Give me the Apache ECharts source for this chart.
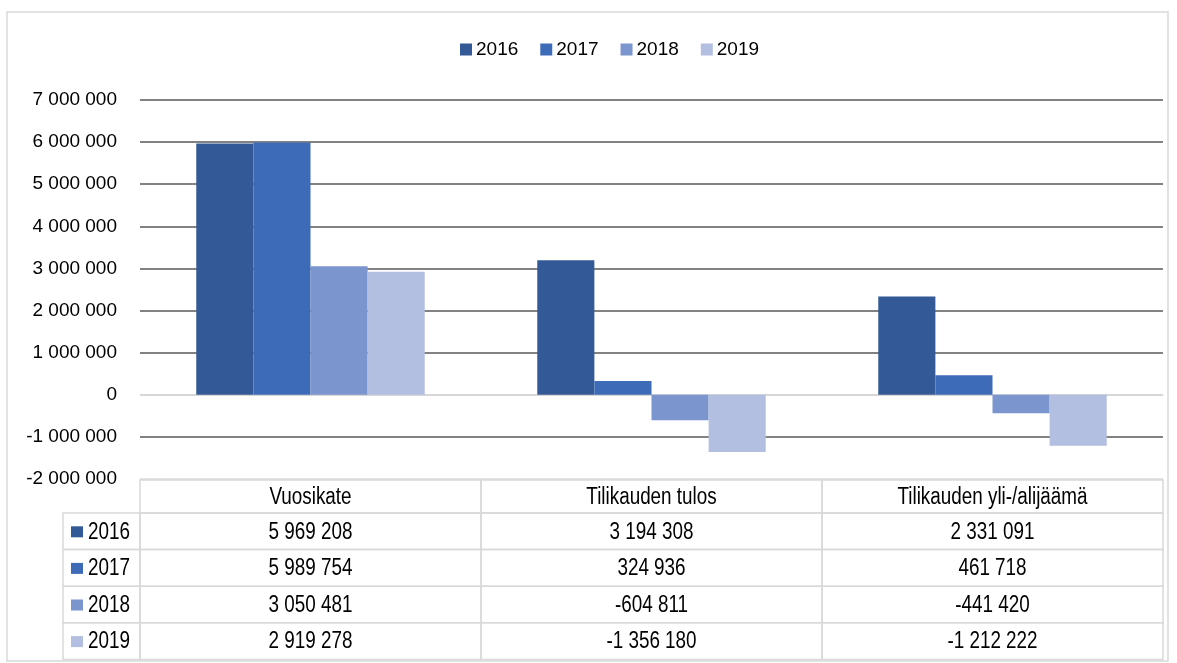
<!DOCTYPE html>
<html>
<head>
<meta charset="utf-8">
<script src="https://cdn.jsdelivr.net/npm/echarts@6/dist/echarts.min.js"></script>
<style>
  html, body { margin: 0; padding: 0; background: #fff; }
  #container { width: 1177px; height: 663px; }
</style>
</head>
<body>
<div id="container"></div>
<script>
const categories = ['Vuosikate', 'Tilikauden tulos', 'Tilikauden yli-/alijäämä'];
const years = ['2016', '2017', '2018', '2019'];
const values2016 = [5969208, 3194308, 2331091];
const values2017 = [5989754, 324936, 461718];
const values2018 = [3050481, -604811, -441420];
const values2019 = [2919278, -1356180, -1212222];
const seriesValues = [values2016, values2017, values2018, values2019];

const COLORS = ['#335A96', '#3E6BB8', '#7B95CF', '#B3BFE0'];
const FONT = '"Liberation Sans", Arial, sans-serif';
const GRID_LIGHT = '#d9d9d9';
const GRID_DARK = '#595959';
// the source font is a narrow face; squeeze the table text to get close
const SQUEEZE = 0.82;

// table geometry (pixels)
const KEY_LEFT = 63, PLOT_LEFT = 140, PLOT_RIGHT = 1163;
const TABLE_TOP = 480, HEAD_H = 33, ROW_H = 36.6;

function fmt(v) {
    let s = String(Math.abs(v)).replace(/\B(?=(\d{3})+(?!\d))/g, ' ');
    return (v < 0 ? '-' : '') + s;
}

let dom = document.getElementById('container');
let myChart = echarts.init(dom);

let graphics = [];
// outer frame
graphics.push({
    type: 'rect',
    shape: { x: 7, y: 12, width: 1161, height: 649 },
    style: { fill: 'none', stroke: GRID_LIGHT, lineWidth: 1.5 },
    silent: true
});

let colW = (PLOT_RIGHT - PLOT_LEFT) / categories.length;
function cell(x, y, w, h) {
    graphics.push({
        type: 'rect',
        shape: { x: x, y: y, width: w, height: h },
        style: { fill: 'none', stroke: GRID_LIGHT, lineWidth: 1.5 },
        silent: true
    });
}
function label(text, x, y, align) {
    graphics.push({
        type: 'text',
        x: x,
        y: y,
        scaleX: SQUEEZE,
        style: {
            text: text, x: 0, y: 0,
            align: align || 'center', verticalAlign: 'middle',
            font: '23px ' + FONT, fill: '#000'
        },
        silent: true
    });
}
// header row
for (let c = 0; c < categories.length; c++) {
    let x = PLOT_LEFT + c * colW;
    cell(x, TABLE_TOP, colW, HEAD_H);
    label(categories[c], x + colW / 2, TABLE_TOP + HEAD_H / 2 + 1);
}
// data rows
for (let r = 0; r < years.length; r++) {
    let y = TABLE_TOP + HEAD_H + r * ROW_H;
    cell(KEY_LEFT, y, PLOT_LEFT - KEY_LEFT, ROW_H);
    graphics.push({
        type: 'rect',
        shape: { x: 71, y: y + ROW_H / 2 - 5, width: 12, height: 11 },
        style: { fill: COLORS[r] },
        silent: true
    });
    label(years[r], 88, y + ROW_H / 2 + 1, 'left');
    for (let c = 0; c < categories.length; c++) {
        let x = PLOT_LEFT + c * colW;
        cell(x, y, colW, ROW_H);
        label(fmt(seriesValues[r][c]), x + colW / 2, y + ROW_H / 2 + 1);
    }
}

let splitColors = [];
for (let i = 0; i <= 9; i++) {
    splitColors.push(i === 0 ? GRID_LIGHT : (i === 2 ? '#c8c8c8' : GRID_DARK));
}

let seriesInOption = years.map(function (y, i) {
    return {
        name: y,
        type: 'bar',
        data: seriesValues[i],
        barGap: 0,
        barCategoryGap: '33%',
        itemStyle: { color: COLORS[i] },
        emphasis: { disabled: true }
    };
});

let option = {
    backgroundColor: '#fff',
    animation: false,
    color: COLORS,
    legend: {
        top: 35,
        left: 455,
        itemWidth: 12,
        itemHeight: 12,
        itemGap: 22,
        icon: 'rect',
        textStyle: { fontFamily: FONT, fontSize: 19, color: '#000', padding: [0, 0, 0, -1] },
        data: years
    },
    grid: { left: 140, right: 14, top: 100, bottom: 184, containLabel: false },
    xAxis: {
        type: 'category',
        data: categories,
        axisLine: { show: false },
        axisTick: { show: false },
        axisLabel: { show: false },
        splitLine: { show: false }
    },
    yAxis: {
        type: 'value',
        min: -2000000,
        max: 7000000,
        interval: 1000000,
        axisLine: { show: false },
        axisTick: { show: false },
        axisLabel: {
            margin: 23,
            color: '#000',
            fontFamily: FONT,
            fontSize: 19,
            formatter: function (v) { return fmt(v); }
        },
        splitLine: { lineStyle: { color: splitColors, width: 1.5 } }
    },
    graphic: graphics,
    series: seriesInOption
};

myChart.setOption(option, true);
window.addEventListener('resize', function () {
    myChart.resize();
});
</script>
</body>
</html>
